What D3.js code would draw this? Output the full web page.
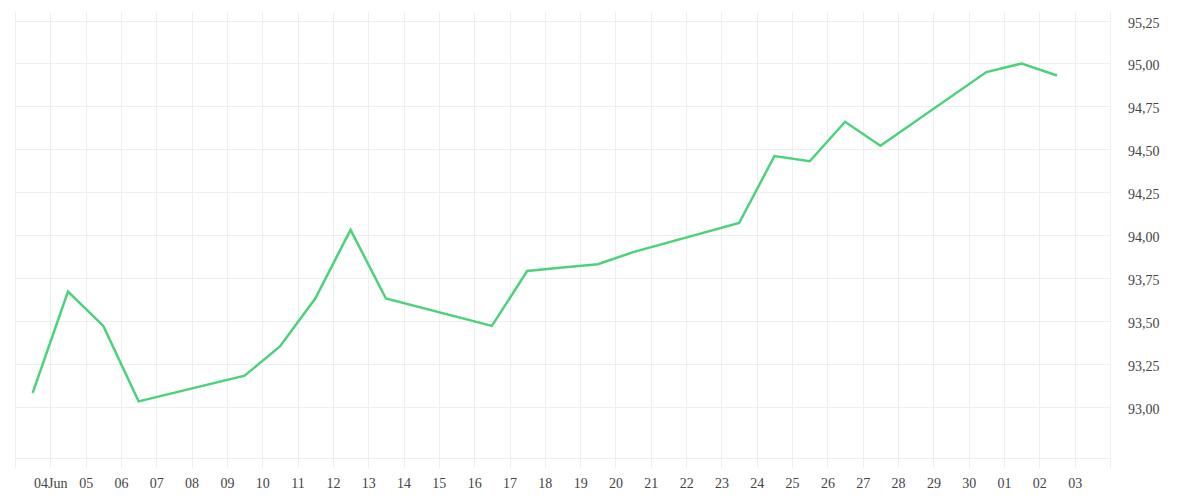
<!DOCTYPE html>
<html>
<head>
<meta charset="utf-8">
<script src="https://cdn.jsdelivr.net/npm/d3@7"></script>
<style>
  body { margin: 0; background: #fff; }
  .grid line { stroke: #efefef; stroke-width: 1; shape-rendering: crispEdges; }
  .grid path { display: none; }
  .axis text { font-family: "Liberation Serif", serif; font-size: 14px; fill: #444; }
  .axis path { display: none; }
  .axis line { stroke: #efefef; shape-rendering: crispEdges; }
</style>
</head>
<body>
<svg id="canvas" width="1200" height="500"></svg>
<script>
// data (trading days, close at midday)
var dates = ["2025-06-03","2025-06-04","2025-06-05","2025-06-06",
             "2025-06-09","2025-06-10","2025-06-11","2025-06-12","2025-06-13",
             "2025-06-16","2025-06-17","2025-06-18","2025-06-19","2025-06-20",
             "2025-06-23","2025-06-24","2025-06-25","2025-06-26","2025-06-27",
             "2025-06-30","2025-07-01","2025-07-02"];
var values = [93.08, 93.67, 93.47, 93.03,
              93.18, 93.35, 93.63, 94.03, 93.63,
              93.47, 93.79, 93.81, 93.83, 93.90,
              94.07, 94.46, 94.43, 94.66, 94.52,
              94.95, 95.00, 94.93];
var xTickLabels = ["04Jun","05","06","07","08","09","10","11","12","13","14","15","16",
                   "17","18","19","20","21","22","23","24","25","26","27","28","29","30",
                   "01","02","03"];
var yTicks = [93.00, 93.25, 93.50, 93.75, 94.00, 94.25, 94.50, 94.75, 95.00, 95.25];
var yDomain = [92.70, 95.30];
var xDomain = ["2025-06-03","2025-07-04"];

// ************************************************************************************** //
// Setup

var plot = { left: 15, right: 1110, top: 12, bottom: 458 };
var parse = d3.timeParse("%Y-%m-%d");
var svg = d3.select('#canvas');

var x = d3.scaleTime().domain(xDomain.map(parse)).range([plot.left, plot.right]);
var y = d3.scaleLinear().domain(yDomain).range([plot.bottom, plot.top]);

var fmt = d3.formatLocale({ decimal: ",", thousands: ".", grouping: [3], currency: ["", ""] }).format(".2f");

var dayTicks = d3.timeDay.range(x.domain()[0], d3.timeDay.offset(x.domain()[1], 1));
var labelMap = {};
dayTicks.slice(1, dayTicks.length - 1).forEach(function(d, i){ labelMap[+d] = xTickLabels[i]; });

// ************************************************************************************** //
// Grid

svg.append('g').attr('class', 'grid')
  .attr('transform', 'translate(0,' + plot.bottom + ')')
  .call(d3.axisBottom(x).tickValues(dayTicks).tickSize(-(plot.bottom - plot.top)).tickFormat(''));

svg.append('g').attr('class', 'grid')
  .attr('transform', 'translate(' + plot.left + ',0)')
  .call(d3.axisLeft(y).tickValues(yTicks.concat([yDomain[0]])).tickSize(-(plot.right - plot.left)).tickFormat(''));

// ************************************************************************************** //
// Axes

var xAxis = svg.append('g').attr('class', 'axis')
  .attr('transform', 'translate(0,' + plot.bottom + ')')
  .call(d3.axisBottom(x).tickValues(dayTicks).tickSize(10).tickPadding(19)
    .tickFormat(function(d){ return labelMap[+d] || ''; }));
xAxis.selectAll('text').attr('dy', 1);

var yAxis = svg.append('g').attr('class', 'axis')
  .attr('transform', 'translate(' + plot.right + ',0)')
  .call(d3.axisRight(y).tickValues(yTicks).tickSize(0).tickPadding(18).tickFormat(fmt));
yAxis.selectAll('text').attr('dy', 6.5);

// ************************************************************************************** //
// Line

var lineGen = d3.line()
  .x(function(d){ return x(d3.timeHour.offset(parse(d.date), 12)); })
  .y(function(d){ return y(d.value); });

var points = dates.map(function(d, i){ return { date: d, value: values[i] }; });

svg.append('path').datum(points)
  .attr('d', lineGen)
  .style('fill', 'none')
  .style('stroke', '#4cd27b')
  .style('stroke-width', 2.5)
  .style('stroke-linejoin', 'miter');
</script>
</body>
</html>
